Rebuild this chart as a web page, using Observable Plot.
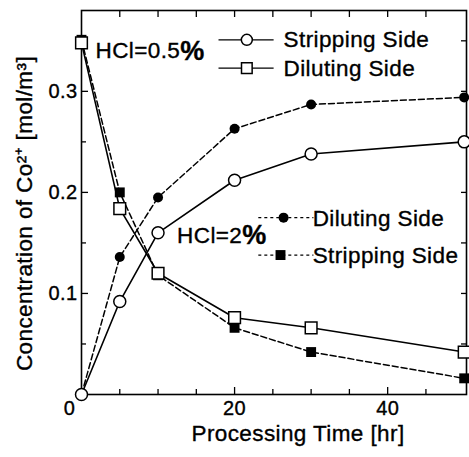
<!DOCTYPE html>
<html>
<head>
<meta charset="utf-8">
<script src="https://cdn.jsdelivr.net/npm/d3@7"></script>
<script src="https://cdn.jsdelivr.net/npm/@observablehq/plot@0.6"></script>
<style>
  html, body { margin: 0; padding: 0; background: #fff; }
  svg { font-family: "Liberation Sans", Arial, sans-serif; }
  svg text { letter-spacing: 0.4px; stroke: black; stroke-width: 0.35px; }
</style>
</head>
<body>
<div id="chart"></div>
<script>
// ---- data ----
const times = [0, 5, 10, 20, 30, 50];                       // Processing time [hr]
const strippingLow = [0, 0.092, 0.160, 0.212, 0.238, 0.250]; // HCl=0.5% stripping side (open circles)
const dilutingLow  = [0.348, 0.184, 0.120, 0.076, 0.066, 0.042]; // HCl=0.5% diluting side (open squares)
const dilutingHigh = [0, 0.136, 0.195, 0.263, 0.287, 0.294]; // HCl=2% diluting side (filled circles)
const strippingHigh = [0.351, 0.200, 0.118, 0.066, 0.042, 0.016]; // HCl=2% stripping side (filled squares)

const xMajorTicks = [20, 40];
const xMinorTicks = [5, 10, 15, 25, 30, 35, 45];
const yMajorTicks = [0.1, 0.2, 0.3];
const yMinorTicks = [0.05, 0.15, 0.25, 0.35];
const xTitle = "Processing Time [hr]";
const yTitle = "Concentration of Co²⁺ [mol/m³]";
const legendLow = ["Stripping Side", "Diluting Side"];
const legendHigh = ["Diluting Side", "Stripping Side"];
const noteLow = ["HCl=0.5", "%"];
const noteHigh = ["HCl=2", "%"];

const rows = vals => times.map((t, i) => ({t, v: vals[i]}));
const noLabel = () => "";

const plot = Plot.plot({
  width: 469,
  height: 457,
  marginLeft: 81,
  marginRight: 3,
  marginTop: 10,
  marginBottom: 63,
  style: {fontFamily: "'Liberation Sans', Arial, sans-serif", fontSize: "20px", color: "black", background: "white"},
  x: {domain: [0, 50.3]},
  y: {domain: [0, 0.38]},
  marks: [
    // axes with inward ticks
    Plot.axisY({ticks: yMajorTicks, tickSize: -7, tickPadding: 11, tickFormat: d => d.toFixed(1), fontSize: 20, label: null, strokeWidth: 1.3}),
    Plot.axisY({ticks: yMinorTicks, tickSize: -5, tickFormat: noLabel, label: null, strokeWidth: 1.3}),
    Plot.axisY({anchor: "right", ticks: [...yMajorTicks, ...yMinorTicks], tickSize: -6, tickFormat: noLabel, label: null, strokeWidth: 1.3}),
    Plot.axisX({ticks: xMajorTicks, tickSize: -7, tickPadding: 13, fontSize: 20, label: null, strokeWidth: 1.3}),
    Plot.axisX({ticks: xMinorTicks, tickSize: -5, tickFormat: noLabel, label: null, strokeWidth: 1.3}),
    Plot.axisX({anchor: "top", ticks: [...xMinorTicks, ...xMajorTicks], tickSize: -6, tickFormat: noLabel, label: null, strokeWidth: 1.3}),
    Plot.frame({stroke: "black", strokeWidth: 1.6}),
    // corner zero
    Plot.text(["0"], {x: 0, y: 0, dx: -12, dy: 14, fontSize: 20, fill: "black"}),
    // axis titles
    Plot.text([yTitle], {frameAnchor: "left", textAnchor: "middle", lineAnchor: "middle", rotate: -90, dx: -57, dy: 11, fontSize: 22.5, fill: "black"}),
    Plot.text([xTitle], {frameAnchor: "bottom", textAnchor: "middle", lineAnchor: "middle", dx: 24, dy: 39, fontSize: 22.5, fill: "black"}),

    // HCl=2% series (dashed, filled)
    Plot.line(rows(strippingHigh), {x: "t", y: "v", stroke: "black", strokeWidth: 1.5, strokeDasharray: "6,3"}),
    Plot.line(rows(dilutingHigh), {x: "t", y: "v", stroke: "black", strokeWidth: 1.5, strokeDasharray: "6,3"}),
    Plot.dot(rows(strippingHigh), {x: "t", y: "v", symbol: "square", r: 5.6, fill: "black", stroke: "none"}),
    Plot.dot(rows(dilutingHigh), {x: "t", y: "v", symbol: "circle", r: 5, fill: "black", stroke: "none"}),

    // HCl=0.5% series (solid, open)
    Plot.line(rows(dilutingLow), {x: "t", y: "v", stroke: "black", strokeWidth: 1.6}),
    Plot.line(rows(strippingLow), {x: "t", y: "v", stroke: "black", strokeWidth: 1.6}),
    Plot.dot(rows(dilutingLow), {x: "t", y: "v", symbol: "square", r: 6.6, fill: "white", stroke: "black", strokeWidth: 1.5}),
    Plot.dot(rows(strippingLow), {x: "t", y: "v", symbol: "circle", r: 6, fill: "white", stroke: "black", strokeWidth: 1.5}),

    // annotations
    Plot.text([noteLow[0]], {x: 12.9, y: 0.340, textAnchor: "end", fontSize: 22.5, fill: "black"}),
    Plot.text([noteLow[1]], {x: 12.9, y: 0.340, textAnchor: "start", fontSize: 27, fontWeight: "bold", fill: "black"}),
    Plot.text([noteHigh[0]], {x: 21.0, y: 0.157, textAnchor: "end", fontSize: 22.5, fill: "black"}),
    Plot.text([noteHigh[1]], {x: 21.0, y: 0.157, textAnchor: "start", fontSize: 27, fontWeight: "bold", fill: "black"}),

    // upper legend (HCl=0.5%)
    Plot.link([0.351, 0.323], {x1: 17.9, x2: 25.1, y1: d => d, y2: d => d, stroke: "black", strokeWidth: 1.3}),
    Plot.dot([0.351], {x: 21.6, y: d => d, symbol: "circle", r: 5.5, fill: "white", stroke: "black", strokeWidth: 1.5}),
    Plot.dot([0.323], {x: 21.6, y: d => d, symbol: "square", r: 6, fill: "white", stroke: "black", strokeWidth: 1.5}),
    Plot.text(legendLow, {x: 26.4, y: (d, i) => [0.351, 0.322][i], textAnchor: "start", fontSize: 22.5, fill: "black"}),

    // lower legend (HCl=2%)
    Plot.link([0.175, 0.138], {x1: 23.1, x2: 30.3, y1: d => d, y2: d => d, stroke: "black", strokeWidth: 1.2, strokeDasharray: "3,3"}),
    Plot.dot([0.175], {x: 26.4, y: d => d, symbol: "circle", r: 5, fill: "black", stroke: "none"}),
    Plot.dot([0.138], {x: 26.0, y: d => d, symbol: "square", r: 5.6, fill: "black", stroke: "none"}),
    Plot.text(legendHigh, {x: 30.2, y: (d, i) => [0.174, 0.137][i], textAnchor: "start", fontSize: 22.5, fill: "black"})
  ]
});
document.getElementById("chart").appendChild(plot);
</script>
</body>
</html>
